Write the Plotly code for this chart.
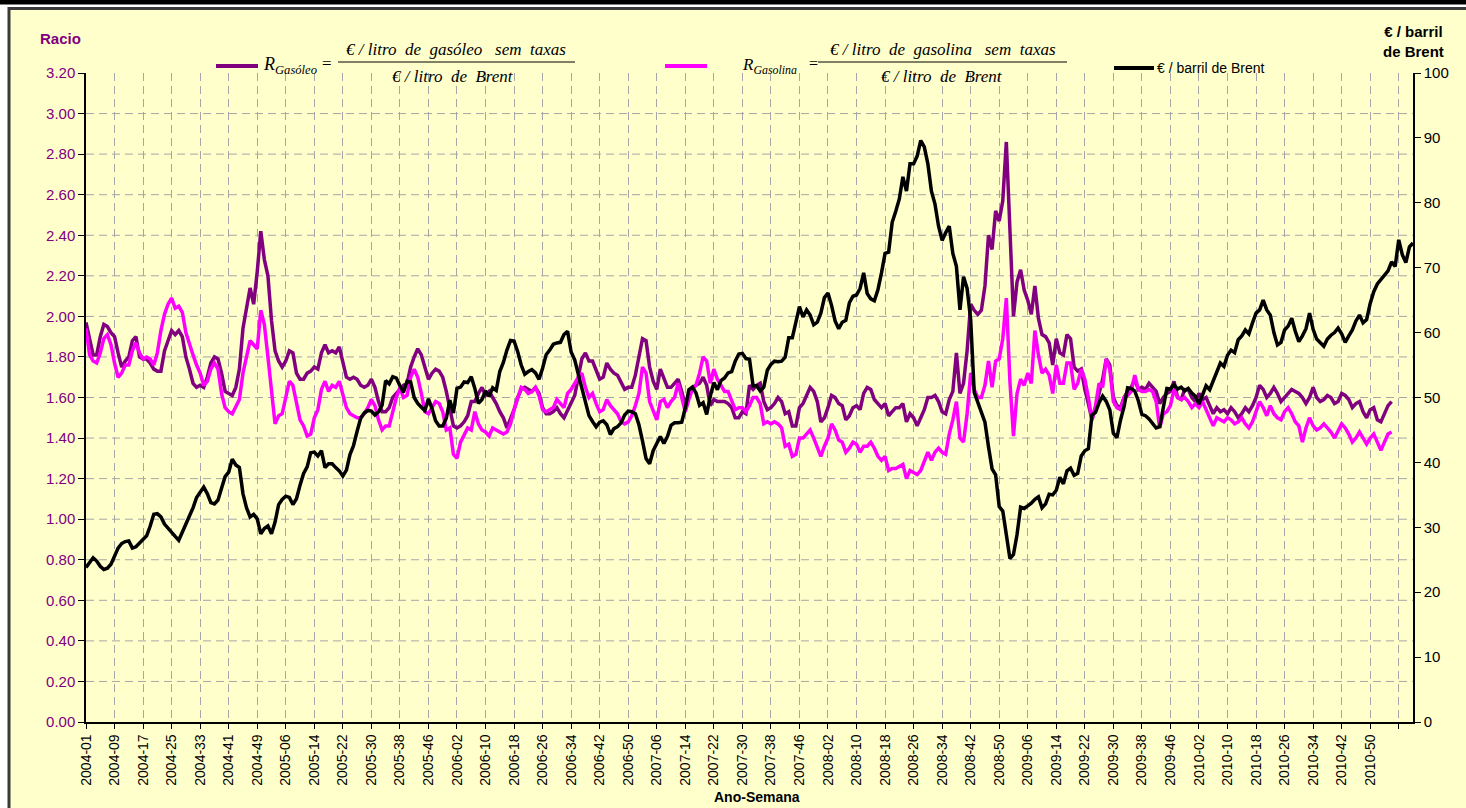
import plotly.graph_objects as go

# ---------------- categories (Ano-Semana) ----------------
anos_semanas = [(2004, 51), (2005, 52), (2006, 52), (2007, 52), (2008, 52), (2009, 52), (2010, 52), (2011, 10)]
semanas = [f"{a}-{s:02d}" for a, n in anos_semanas for s in range(1, n + 1)]

tick_labels = ["2004-01", "2004-09", "2004-17", "2004-25", "2004-33", "2004-41", "2004-49",
               "2005-06", "2005-14", "2005-22", "2005-30", "2005-38", "2005-46",
               "2006-02", "2006-10", "2006-18", "2006-26", "2006-34", "2006-42", "2006-50",
               "2007-06", "2007-14", "2007-22", "2007-30", "2007-38", "2007-46",
               "2008-02", "2008-10", "2008-18", "2008-26", "2008-34", "2008-42", "2008-50",
               "2009-06", "2009-14", "2009-22", "2009-30", "2009-38", "2009-46",
               "2010-02", "2010-10", "2010-18", "2010-26", "2010-34", "2010-42", "2010-50", ""]
tick_positions = ["2004-01", "2004-09", "2004-17", "2004-25", "2004-33", "2004-41", "2004-49",
                  "2005-06", "2005-14", "2005-22", "2005-30", "2005-38", "2005-46",
                  "2006-02", "2006-10", "2006-18", "2006-26", "2006-34", "2006-42", "2006-50",
                  "2007-06", "2007-14", "2007-22", "2007-30", "2007-38", "2007-46",
                  "2008-02", "2008-10", "2008-18", "2008-26", "2008-34", "2008-42", "2008-50",
                  "2009-06", "2009-14", "2009-22", "2009-30", "2009-38", "2009-46",
                  "2010-02", "2010-10", "2010-18", "2010-26", "2010-34", "2010-42", "2010-50", "2011-06"]

racio_ticks = [0.2, 0.4, 0.6, 0.8, 1.0, 1.2, 1.4, 1.6, 1.8, 2.0, 2.2, 2.4, 2.6, 2.8, 3.0]

# ---------------- series ----------------
racio_gasoleo = [
    1.97, 1.88, 1.81, 1.81, 1.90, 1.96, 1.95, 1.92, 1.90, 1.82,
    1.75, 1.78, 1.80, 1.88, 1.90, 1.80, 1.79, 1.79, 1.77, 1.74,
    1.73, 1.73, 1.83, 1.88, 1.93, 1.91, 1.93, 1.90, 1.80, 1.74,
    1.67, 1.65, 1.66, 1.65, 1.70, 1.77, 1.80, 1.79, 1.72, 1.63,
    1.62, 1.61, 1.65, 1.74, 1.94, 2.05, 2.14, 2.06, 2.22, 2.42,
    2.28, 2.20, 1.98, 1.83, 1.78, 1.75, 1.78, 1.83, 1.82, 1.72,
    1.69, 1.69, 1.72, 1.73, 1.75, 1.74, 1.82, 1.86, 1.82, 1.83,
    1.82, 1.85, 1.77, 1.70, 1.69, 1.70, 1.69, 1.66, 1.65, 1.66,
    1.69, 1.65, 1.58, 1.53, 1.53, 1.55, 1.60, 1.62, 1.64, 1.66,
    1.67, 1.75, 1.80, 1.84, 1.81, 1.75, 1.69, 1.72, 1.74, 1.73,
    1.70, 1.63, 1.54, 1.46, 1.45, 1.46, 1.48, 1.51, 1.58, 1.58,
    1.62, 1.65, 1.61, 1.63, 1.60, 1.57, 1.53, 1.50, 1.45, 1.49,
    1.54, 1.60, 1.64, 1.65, 1.64, 1.63, 1.65, 1.62, 1.55, 1.52,
    1.52, 1.53, 1.55, 1.52, 1.50, 1.54, 1.57, 1.61, 1.70, 1.79,
    1.82, 1.78, 1.78, 1.74, 1.69, 1.70, 1.77, 1.74, 1.72, 1.71,
    1.67, 1.64, 1.65, 1.65, 1.71, 1.80, 1.89, 1.88, 1.75, 1.68,
    1.64, 1.74, 1.70, 1.65, 1.65, 1.67, 1.69, 1.63, 1.56, 1.61,
    1.65, 1.66, 1.67, 1.70, 1.66, 1.56, 1.59, 1.58, 1.58, 1.58,
    1.57, 1.55, 1.50, 1.50, 1.53, 1.52, 1.66, 1.64, 1.66, 1.67,
    1.58, 1.54, 1.55, 1.57, 1.60, 1.58, 1.52, 1.53, 1.46, 1.46,
    1.55, 1.57, 1.61, 1.65, 1.63, 1.58, 1.48, 1.50, 1.55, 1.61,
    1.60, 1.57, 1.56, 1.49, 1.51, 1.55, 1.56, 1.54, 1.62, 1.65,
    1.64, 1.59, 1.57, 1.55, 1.57, 1.51, 1.53, 1.55, 1.55, 1.57,
    1.48, 1.52, 1.50, 1.46, 1.50, 1.54, 1.60, 1.60, 1.61, 1.58,
    1.53, 1.52, 1.59, 1.63, 1.82, 1.62, 1.67, 1.83, 2.06, 2.03,
    2.01, 2.03, 2.15, 2.40, 2.33, 2.52, 2.47, 2.57, 2.86, 2.45,
    2.00, 2.17, 2.23, 2.13, 2.08, 2.01, 2.15, 1.99, 1.91, 1.90,
    1.87, 1.76, 1.89, 1.82, 1.81, 1.91, 1.89, 1.75, 1.73, 1.74,
    1.64, 1.57, 1.49, 1.55, 1.62, 1.69, 1.79, 1.76, 1.60, 1.56,
    1.55, 1.60, 1.63, 1.65, 1.69, 1.64, 1.65, 1.64, 1.67, 1.65,
    1.63, 1.57, 1.60, 1.62, 1.63, 1.68, 1.60, 1.59, 1.64, 1.64,
    1.60, 1.58, 1.62, 1.59, 1.60, 1.56, 1.52, 1.55, 1.53, 1.54,
    1.52, 1.55, 1.53, 1.50, 1.52, 1.55, 1.53, 1.56, 1.60, 1.66,
    1.64, 1.60, 1.62, 1.65, 1.62, 1.58, 1.60, 1.62, 1.64, 1.63,
    1.62, 1.60, 1.57, 1.60, 1.65, 1.60, 1.58, 1.59, 1.61, 1.60,
    1.57, 1.58, 1.62, 1.61, 1.59, 1.55, 1.57, 1.58, 1.53, 1.50,
    1.54, 1.55, 1.49, 1.48, 1.52, 1.56, 1.58,
]

racio_gasolina = [
    1.94, 1.81, 1.78, 1.77, 1.82, 1.89, 1.91, 1.86, 1.77, 1.70,
    1.72, 1.76, 1.76, 1.83, 1.87, 1.82, 1.79, 1.80, 1.79, 1.76,
    1.82, 1.93, 2.01, 2.06, 2.09, 2.04, 2.05, 2.02, 1.92, 1.86,
    1.81, 1.76, 1.72, 1.66, 1.68, 1.74, 1.77, 1.74, 1.62, 1.55,
    1.53, 1.52, 1.56, 1.59, 1.72, 1.80, 1.88, 1.86, 1.84, 2.03,
    1.96, 1.80, 1.63, 1.47, 1.51, 1.52, 1.60, 1.68, 1.66, 1.57,
    1.49, 1.46, 1.41, 1.42, 1.50, 1.54, 1.64, 1.68, 1.63, 1.66,
    1.65, 1.68, 1.61, 1.55, 1.52, 1.51, 1.50, 1.50, 1.52, 1.55,
    1.59, 1.56, 1.49, 1.44, 1.46, 1.46, 1.53, 1.60, 1.65, 1.60,
    1.61, 1.70, 1.74, 1.70, 1.62, 1.53, 1.52, 1.55, 1.58, 1.57,
    1.53, 1.44, 1.45, 1.32, 1.30, 1.38, 1.42, 1.45, 1.44, 1.53,
    1.47, 1.44, 1.43, 1.41, 1.45, 1.44, 1.43, 1.42, 1.43, 1.47,
    1.54, 1.59, 1.65, 1.64, 1.62, 1.63, 1.65, 1.61, 1.54, 1.53,
    1.54, 1.55, 1.59, 1.57, 1.55, 1.62, 1.64, 1.67, 1.70, 1.72,
    1.65, 1.60, 1.62, 1.57, 1.53, 1.54, 1.59, 1.56, 1.54, 1.52,
    1.48, 1.47, 1.48, 1.51, 1.56, 1.62, 1.75, 1.72, 1.58, 1.54,
    1.49, 1.58, 1.59, 1.55, 1.58, 1.60, 1.67, 1.60, 1.53, 1.59,
    1.64, 1.66, 1.72, 1.80, 1.78, 1.67, 1.74, 1.69, 1.66, 1.63,
    1.63, 1.59, 1.54, 1.55, 1.55, 1.53, 1.56, 1.60, 1.60, 1.57,
    1.47, 1.48, 1.47, 1.48, 1.47, 1.45, 1.36, 1.37, 1.31, 1.32,
    1.40, 1.40, 1.42, 1.44, 1.40, 1.35, 1.31, 1.36, 1.40, 1.47,
    1.44, 1.39, 1.38, 1.33, 1.35, 1.38, 1.37, 1.33, 1.36, 1.36,
    1.38, 1.35, 1.31, 1.29, 1.31, 1.24, 1.25, 1.25, 1.26, 1.27,
    1.20, 1.24, 1.23, 1.22, 1.24, 1.28, 1.33, 1.29, 1.33, 1.35,
    1.33, 1.32, 1.42, 1.49, 1.58, 1.40, 1.38, 1.52, 1.72, 1.64,
    1.60, 1.60, 1.66, 1.78, 1.65, 1.78, 1.79, 1.89, 2.09, 1.68,
    1.41, 1.62, 1.69, 1.66, 1.72, 1.67, 1.93, 1.81, 1.72, 1.74,
    1.71, 1.62, 1.76, 1.67, 1.67, 1.77, 1.77, 1.64, 1.67, 1.74,
    1.69, 1.60, 1.49, 1.56, 1.67, 1.65, 1.79, 1.74, 1.58, 1.55,
    1.54, 1.60, 1.61, 1.63, 1.71, 1.64, 1.63, 1.63, 1.64, 1.63,
    1.58, 1.45, 1.52, 1.53, 1.56, 1.64, 1.60, 1.59, 1.60, 1.58,
    1.55, 1.57, 1.55, 1.58, 1.54, 1.50, 1.46, 1.50, 1.49, 1.48,
    1.50, 1.49, 1.47, 1.48, 1.50, 1.47, 1.45, 1.48, 1.53, 1.58,
    1.55, 1.51, 1.56, 1.52, 1.50, 1.49, 1.53, 1.55, 1.52, 1.48,
    1.46, 1.38, 1.45, 1.50, 1.46, 1.44, 1.45, 1.47, 1.45, 1.43,
    1.40, 1.44, 1.47, 1.45, 1.42, 1.38, 1.40, 1.43, 1.40, 1.37,
    1.40, 1.42, 1.38, 1.34, 1.38, 1.42, 1.43,
]

brent_eur_barril = [
    23.8, 24.6, 25.3, 24.8, 24.0, 23.5, 23.7, 24.3, 25.5, 26.8,
    27.5, 27.8, 27.9, 26.8, 27.0, 27.6, 28.2, 28.7, 30.2, 32.0,
    32.1, 31.6, 30.5, 29.8, 29.1, 28.6, 28.0, 29.2, 30.5, 31.5,
    33.0, 34.6, 35.5, 36.2, 35.2, 33.8, 33.6, 34.2, 36.0, 37.8,
    38.5, 40.5, 39.6, 39.2, 35.2, 33.0, 31.6, 32.0, 31.3, 29.0,
    29.8, 30.2, 29.0, 30.8, 33.5, 34.3, 34.8, 34.6, 33.5, 34.4,
    36.5, 38.3, 39.3, 41.5, 41.6, 41.0, 41.8, 39.2, 39.8, 39.8,
    39.2, 38.7, 37.9, 38.8, 41.2, 42.6, 44.8, 46.8, 47.6, 48.0,
    47.9, 47.3, 47.8, 48.8, 52.6, 52.1, 53.2, 53.0, 51.8, 50.8,
    52.5, 52.4, 50.0, 49.1, 48.5, 48.0, 49.8, 48.3, 46.4, 45.6,
    45.6, 46.8, 49.6, 47.6, 51.4, 51.6, 52.4, 52.3, 53.2, 51.4,
    49.1, 49.7, 51.0, 50.2, 51.5, 51.1, 54.0, 55.4, 57.3, 58.8,
    58.7, 57.1, 55.0, 53.6, 54.0, 54.3, 53.8, 52.8, 54.5, 56.6,
    57.3, 58.2, 58.4, 58.5, 59.7, 60.2, 57.0, 55.8, 53.6, 51.3,
    49.5, 47.2, 46.3, 45.5, 46.2, 46.4, 45.8, 44.3, 45.2, 45.5,
    46.1, 47.3, 47.9, 47.8, 47.5, 45.8, 43.3, 40.6, 39.8, 41.8,
    42.9, 44.0, 42.9, 44.0, 45.7, 46.1, 46.1, 46.2, 48.4, 51.2,
    51.6, 50.7, 48.8, 49.2, 47.4, 50.2, 52.3, 51.2, 52.6, 53.0,
    53.8, 54.0, 55.6, 56.7, 56.8, 56.0, 55.9, 51.8, 51.8, 51.0,
    51.6, 54.2, 55.1, 55.6, 55.5, 55.6, 56.2, 59.2, 59.2, 61.6,
    64.0, 62.4, 63.5, 62.7, 61.2, 61.6, 63.0, 65.4, 66.1, 64.2,
    61.8, 60.6, 61.6, 61.9, 64.6, 65.6, 65.8, 66.8, 69.2, 66.0,
    65.2, 64.9, 66.6, 69.2, 72.2, 72.4, 77.0, 78.7, 80.6, 84.0,
    81.8, 86.0, 86.0, 87.2, 89.6, 88.6, 86.0, 81.8, 79.8, 76.4,
    74.2, 75.4, 76.4, 72.2, 70.2, 63.5, 68.6, 66.8, 62.0, 50.8,
    49.3, 47.9, 46.2, 42.4, 39.0, 38.1, 33.2, 32.5, 28.6, 25.2,
    25.8, 28.9, 33.1, 32.9, 33.3, 33.7, 34.3, 34.7, 33.0, 33.6,
    35.1, 35.0, 35.7, 37.7, 36.7, 38.7, 39.1, 38.0, 38.3, 41.0,
    41.8, 42.1, 47.3, 47.7, 49.2, 50.2, 49.4, 48.1, 44.5, 43.8,
    46.5, 48.6, 51.5, 51.4, 51.0, 49.5, 47.4, 47.2, 46.7, 46.1,
    45.3, 45.5, 48.5, 51.4, 51.3, 52.0, 51.3, 51.6, 51.0, 51.4,
    50.7, 50.2, 49.0, 50.5, 51.8, 51.2, 52.5, 54.0, 55.3, 54.8,
    56.5, 57.3, 56.9, 58.9, 59.5, 60.4, 59.8, 61.5, 63.0, 63.5,
    65.0, 63.5, 62.7, 60.0, 58.1, 58.5, 60.4, 61.0, 62.2, 60.2,
    58.6, 59.5, 60.6, 63.0, 60.5, 59.0, 58.5, 57.9, 59.0, 59.6,
    60.0, 60.7, 59.8, 58.5, 59.5, 60.4, 61.8, 62.7, 61.5, 62.0,
    64.5, 66.3, 67.5, 68.1, 68.7, 69.5, 70.9, 70.2, 74.3, 72.0,
    70.8, 73.2, 73.8,
]

# ---------------- colours ----------------
COR_GASOLEO = "#800080"
COR_GASOLINA = "#FF00FF"
COR_BRENT = "#000000"
FUNDO = "#FFFFCC"
GRELHA = "#A6A6A6"

W, H = 1466, 808
ML, MR, MT, MB = 86, 53, 73, 86
PW, PH = W - ML - MR, H - MT - MB


def px(x):
    return (x - ML) / PW


def py(y):
    return (H - MB - y) / PH


fig = go.Figure()
fig.add_trace(go.Scatter(x=semanas[:len(racio_gasoleo)], y=racio_gasoleo, mode="lines",
                         line=dict(color=COR_GASOLEO, width=3.5), name="R Gasóleo"))
fig.add_trace(go.Scatter(x=semanas[:len(racio_gasolina)], y=racio_gasolina, mode="lines",
                         line=dict(color=COR_GASOLINA, width=3.5), name="R Gasolina"))
fig.add_trace(go.Scatter(x=semanas[:len(brent_eur_barril)], y=brent_eur_barril, mode="lines",
                         line=dict(color=COR_BRENT, width=3.5), name="€ / barril de Brent",
                         yaxis="y2"))

shapes = []
# frame & background
shapes.append(dict(type="rect", xref="paper", yref="paper", x0=px(9), x1=px(1490), y0=py(8.5), y1=py(840),
                   fillcolor=FUNDO, line=dict(color="#3a3a3a", width=3), layer="below"))
shapes.append(dict(type="rect", xref="paper", yref="paper", x0=px(-10), x1=px(1490), y0=py(-10), y1=py(4.5),
                   fillcolor="#000000", line=dict(width=0), layer="below"))
# horizontal gridlines
for v in racio_ticks:
    shapes.append(dict(type="line", xref="paper", yref="y", x0=0, x1=1, y0=v, y1=v,
                       line=dict(color=GRELHA, width=1, dash="8px,5px"), layer="below"))
# legend samples
shapes.append(dict(type="line", xref="paper", yref="paper", x0=px(216), x1=px(258), y0=py(66), y1=py(66),
                   line=dict(color=COR_GASOLEO, width=4)))
shapes.append(dict(type="line", xref="paper", yref="paper", x0=px(665), x1=px(707), y0=py(66), y1=py(66),
                   line=dict(color=COR_GASOLINA, width=4)))
shapes.append(dict(type="line", xref="paper", yref="paper", x0=px(1114), x1=px(1154), y0=py(68), y1=py(68),
                   line=dict(color=COR_BRENT, width=4)))
# fraction bars
shapes.append(dict(type="line", xref="paper", yref="paper", x0=px(338), x1=px(575), y0=py(62), y1=py(62),
                   line=dict(color="#000000", width=1)))
shapes.append(dict(type="line", xref="paper", yref="paper", x0=px(818), x1=px(1067), y0=py(62), y1=py(62),
                   line=dict(color="#000000", width=1)))

SERIF = "Liberation Serif, Times New Roman, serif"
SANS = "Liberation Sans, Arial, sans-serif"
NB = "\u00a0"


def ann(text, x, y, size, color="#000000", family=SANS, xanchor="center", yanchor="middle", align="center"):
    return dict(text=text, x=px(x), y=py(y), xref="paper", yref="paper", showarrow=False,
                xanchor=xanchor, yanchor=yanchor, align=align,
                font=dict(size=size, color=color, family=family))


annotations = [
    ann("<b>Racio</b>", 60, 38, 15, COR_GASOLEO),
    ann("<b>€ / barril</b><br><b>de Brent</b>", 1413, 42, 15),
    ann("<b>Ano-Semana</b>", 757, 797, 14),
    # gasóleo formula
    ann("<i>R</i><sub><i>Gasóleo</i></sub>", 261, 66, 18, family=SERIF, xanchor="left"),
    ann("=", 327, 63, 17, family=SERIF),
    ann(f"<i>€ / litro{NB}{NB}de{NB}{NB}gasóleo{NB}{NB}{NB}sem{NB}{NB}taxas</i>", 456, 49, 17, family=SERIF),
    ann(f"<i>€ / litro{NB}{NB}de{NB}{NB}Brent</i>", 453, 76, 17, family=SERIF),
    # gasolina formula
    ann("<i>R</i><sub><i>Gasolina</i></sub>", 740, 66, 17, family=SERIF, xanchor="left"),
    ann("=", 813, 63, 16, family=SERIF),
    ann(f"<i>€ / litro{NB}{NB}de{NB}{NB}gasolina{NB}{NB}{NB}sem{NB}{NB}taxas</i>", 943, 49, 17, family=SERIF),
    ann(f"<i>€ / litro{NB}{NB}de{NB}{NB}Brent</i>", 942, 76, 17, family=SERIF),
    # brent legend
    ann("€ / barril de Brent", 1155, 68, 14, xanchor="left"),
]

fig.update_layout(
    width=W, height=H,
    margin=dict(l=ML, r=MR, t=MT, b=MB, pad=0),
    paper_bgcolor="#FFFFFF",
    plot_bgcolor="rgba(0,0,0,0)",
    showlegend=False,
    font=dict(family=SANS, size=14, color="#000000"),
    shapes=shapes,
    annotations=annotations,
    xaxis=dict(
        type="category", categoryorder="array", categoryarray=semanas,
        range=[0, len(semanas) - 1],
        tickmode="array", tickvals=tick_positions, ticktext=tick_labels,
        tickangle=-90, tickfont=dict(size=14, color="#000000"),
        showgrid=True, gridcolor=GRELHA, gridwidth=1, griddash="8px,5px",
        showline=True, linecolor="#000000", linewidth=1.5,
        ticks="outside", ticklen=5, tickcolor="#000000",
        zeroline=False,
    ),
    yaxis=dict(
        range=[0, 3.2], dtick=0.2, tick0=0, tickformat=".2f",
        tickfont=dict(size=15, color=COR_GASOLEO),
        showgrid=False, zeroline=False,
        showline=True, linecolor="#000000", linewidth=1.5,
        ticks="outside", ticklen=6, tickcolor="#000000",
    ),
    yaxis2=dict(
        range=[0, 100], dtick=10, tick0=0, overlaying="y", side="right",
        tickfont=dict(size=15, color="#000000"),
        showgrid=False, zeroline=False,
        showline=True, linecolor="#000000", linewidth=1.5,
        ticks="outside", ticklen=6, tickcolor="#000000",
    ),
)

fig.write_html(
    "out.html",
    include_plotlyjs=True,
    config={"displayModeBar": False},
    post_script="document.body.style.margin='0';document.body.style.overflow='hidden';",
)
